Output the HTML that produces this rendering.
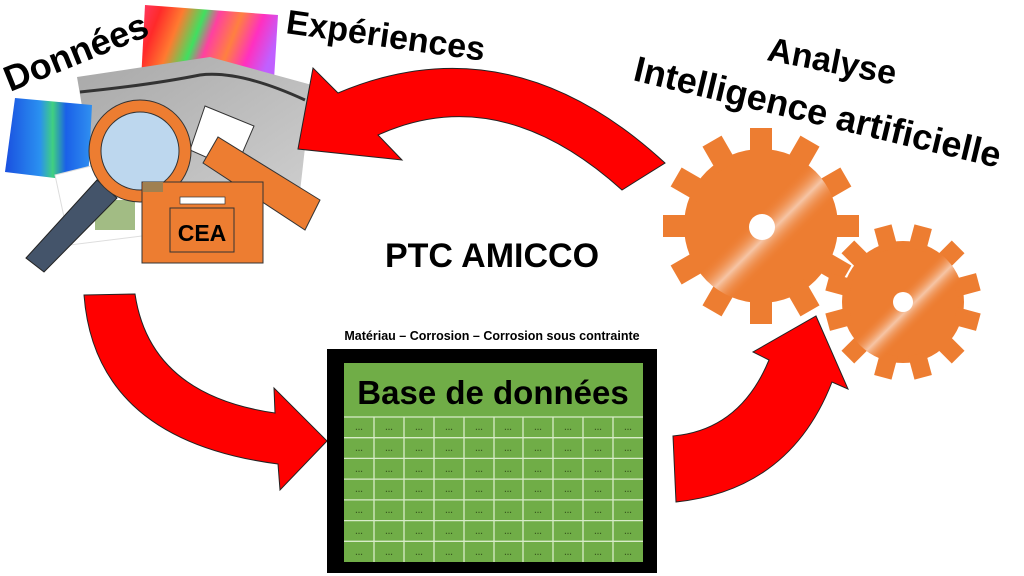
<!DOCTYPE html>
<html><head><meta charset="utf-8"><style>
html,body{margin:0;padding:0;background:#fff;width:1024px;height:576px;overflow:hidden}
svg{display:block}
text{font-family:"Liberation Sans",sans-serif;font-weight:bold}
</style></head><body>
<svg width="1024" height="576" viewBox="0 0 1024 576" xmlns="http://www.w3.org/2000/svg">
<defs>
<linearGradient id="ebsd" x1="0" y1="0" x2="1" y2="0.3">
<stop offset="0" stop-color="#ff3a6a"/><stop offset="0.15" stop-color="#ff2a2a"/><stop offset="0.3" stop-color="#ff7a30"/><stop offset="0.45" stop-color="#40e060"/><stop offset="0.55" stop-color="#ff40a0"/><stop offset="0.7" stop-color="#ff8040"/><stop offset="0.85" stop-color="#ff30c0"/><stop offset="1" stop-color="#c060ff"/>
</linearGradient>
<linearGradient id="blue" x1="0" y1="0" x2="1" y2="0">
<stop offset="0" stop-color="#1a50e0"/><stop offset="0.4" stop-color="#2a90f0"/><stop offset="0.55" stop-color="#40d080"/><stop offset="0.7" stop-color="#1a60e8"/><stop offset="1" stop-color="#3090f0"/>
</linearGradient>
<linearGradient id="sem" x1="0" y1="0" x2="1" y2="1">
<stop offset="0" stop-color="#a8a8a8"/><stop offset="1" stop-color="#d0d0d0"/>
</linearGradient>
<linearGradient id="shine" x1="0" y1="0" x2="1" y2="1">
<stop offset="0.45" stop-color="#ed7d31" stop-opacity="0"/><stop offset="0.55" stop-color="#f6c5a5"/><stop offset="0.65" stop-color="#ed7d31" stop-opacity="0"/>
</linearGradient>
</defs>

<!-- collage -->
<polygon points="145,5 278,15 272,112 140,100" fill="url(#ebsd)"/>
<polygon points="77,77 210,57 312,85 300,192 100,212" fill="url(#sem)"/>
<path d="M80,92 Q150,85 200,75 Q240,70 305,100" stroke="#333" stroke-width="3" fill="none"/>
<polygon points="15,98 92,105 88,182 5,172" fill="url(#blue)"/>
<polygon points="55,175 135,155 150,235 70,245" fill="#fff" stroke="#ddd"/>
<rect x="95" y="200" width="40" height="30" fill="#7aa050" opacity="0.7"/>
<polygon points="205,106 254,126 235,170 190,150" fill="#fff" stroke="#333"/>
<polygon points="26,258 97,180 117,198 44,272" fill="#44546a" stroke="#222"/>
<circle cx="140" cy="151" r="45" fill="#bdd7ee" stroke="#ed7d31" stroke-width="12"/>
<circle cx="140" cy="151" r="51" fill="none" stroke="#333" stroke-width="1"/>
<circle cx="140" cy="151" r="39" fill="none" stroke="#333" stroke-width="1"/>
<polygon points="203,163 218,137 320,200 305,230" fill="#ed7d31" stroke="#333"/>
<rect x="142" y="182" width="121" height="81" fill="#ed7d31" stroke="#333"/>
<rect x="143" y="182" width="20" height="10" fill="#a08050"/>
<rect x="180" y="197" width="45" height="7" fill="#fff" stroke="#333" stroke-width="0.7"/>
<rect x="170" y="208" width="64" height="44" fill="none" stroke="#333"/>
<text x="202" y="241" font-size="23" text-anchor="middle">CEA</text>

<!-- titles -->
<text x="10" y="92" font-size="36" transform="rotate(-22 10 92)">Données</text>
<text x="285" y="33" font-size="34" transform="rotate(8 285 33)">Expériences</text>
<text x="766" y="60" font-size="34" transform="rotate(11 766 60)">Analyse</text>
<text x="632" y="80" font-size="36" transform="rotate(13.5 632 80)">Intelligence artificielle</text>
<text x="492" y="267" font-size="34" text-anchor="middle">PTC AMICCO</text>

<!-- arrows -->
<path d="M298,149 L313,68 L338,93 Q510,20 665,163 L622,190 Q500,80 378,135 L402,160 Z" fill="#f00" stroke="#222" stroke-width="1"/>
<path d="M84,295 L135,294 Q150,395 275,413 L274,388 L327,441 L280,490 L278,464 Q95,440 84,295 Z" fill="#f00" stroke="#222" stroke-width="1"/>
<path d="M673,436 Q740,430 769,360 L753,352 L816,316 L848,389 L832,382 Q790,490 676,502 Z" fill="#f00" stroke="#222" stroke-width="1"/>

<!-- gears -->
<g transform="translate(761,226)">
<circle r="77" fill="#ed7d31"/>
<g fill="#ed7d31">
<rect x="-11" y="-98" width="22" height="30" transform="rotate(0)"/>
<rect x="-11" y="-98" width="22" height="30" transform="rotate(30)"/>
<rect x="-11" y="-98" width="22" height="30" transform="rotate(60)"/>
<rect x="-11" y="-98" width="22" height="30" transform="rotate(90)"/>
<rect x="-11" y="-98" width="22" height="30" transform="rotate(120)"/>
<rect x="-11" y="-98" width="22" height="30" transform="rotate(150)"/>
<rect x="-11" y="-98" width="22" height="30" transform="rotate(180)"/>
<rect x="-11" y="-98" width="22" height="30" transform="rotate(210)"/>
<rect x="-11" y="-98" width="22" height="30" transform="rotate(240)"/>
<rect x="-11" y="-98" width="22" height="30" transform="rotate(270)"/>
<rect x="-11" y="-98" width="22" height="30" transform="rotate(300)"/>
<rect x="-11" y="-98" width="22" height="30" transform="rotate(330)"/>
</g>
<circle r="77" fill="url(#shine)"/>
<circle cx="1" cy="1" r="13" fill="#fff"/>
</g>
<g transform="translate(903,302)">
<circle r="61" fill="#ed7d31"/>
<g fill="#ed7d31">
<rect x="-9" y="-78" width="18" height="24" transform="rotate(15)"/>
<rect x="-9" y="-78" width="18" height="24" transform="rotate(45)"/>
<rect x="-9" y="-78" width="18" height="24" transform="rotate(75)"/>
<rect x="-9" y="-78" width="18" height="24" transform="rotate(105)"/>
<rect x="-9" y="-78" width="18" height="24" transform="rotate(135)"/>
<rect x="-9" y="-78" width="18" height="24" transform="rotate(165)"/>
<rect x="-9" y="-78" width="18" height="24" transform="rotate(195)"/>
<rect x="-9" y="-78" width="18" height="24" transform="rotate(225)"/>
<rect x="-9" y="-78" width="18" height="24" transform="rotate(255)"/>
<rect x="-9" y="-78" width="18" height="24" transform="rotate(285)"/>
<rect x="-9" y="-78" width="18" height="24" transform="rotate(315)"/>
<rect x="-9" y="-78" width="18" height="24" transform="rotate(345)"/>
</g>
<circle r="61" fill="url(#shine)"/>
<circle r="10" fill="#fff"/>
</g>

<!-- database -->
<text x="492" y="340" font-size="12.5" text-anchor="middle">Matériau – Corrosion – Corrosion sous contrainte</text>
<rect x="327" y="349" width="330" height="224" fill="#000"/>
<rect x="344" y="363" width="299" height="199" fill="#70ad47"/>
<text x="493" y="404" font-size="33" text-anchor="middle">Base de données</text>
<g stroke="#d8ecc8" stroke-width="1.3">
<line x1="344" y1="417" x2="643" y2="417"/>
<line x1="344" y1="437.7" x2="643" y2="437.7"/>
<line x1="344" y1="458.4" x2="643" y2="458.4"/>
<line x1="344" y1="479.1" x2="643" y2="479.1"/>
<line x1="344" y1="499.9" x2="643" y2="499.9"/>
<line x1="344" y1="520.6" x2="643" y2="520.6"/>
<line x1="344" y1="541.3" x2="643" y2="541.3"/>
<line x1="374" y1="417" x2="374" y2="562"/>
<line x1="404" y1="417" x2="404" y2="562"/>
<line x1="434" y1="417" x2="434" y2="562"/>
<line x1="464" y1="417" x2="464" y2="562"/>
<line x1="494" y1="417" x2="494" y2="562"/>
<line x1="523" y1="417" x2="523" y2="562"/>
<line x1="553" y1="417" x2="553" y2="562"/>
<line x1="583" y1="417" x2="583" y2="562"/>
<line x1="613" y1="417" x2="613" y2="562"/>
</g>
<g font-size="8" fill="#3a5a20" style="font-weight:normal">
<text y="430" x="355 385 415 445 475 504 534 564 594 624">…………………………</text>
<text y="451" x="355 385 415 445 475 504 534 564 594 624">…………………………</text>
<text y="472" x="355 385 415 445 475 504 534 564 594 624">…………………………</text>
<text y="492" x="355 385 415 445 475 504 534 564 594 624">…………………………</text>
<text y="513" x="355 385 415 445 475 504 534 564 594 624">…………………………</text>
<text y="534" x="355 385 415 445 475 504 534 564 594 624">…………………………</text>
<text y="555" x="355 385 415 445 475 504 534 564 594 624">…………………………</text>
</g>
</svg>
</body></html>
